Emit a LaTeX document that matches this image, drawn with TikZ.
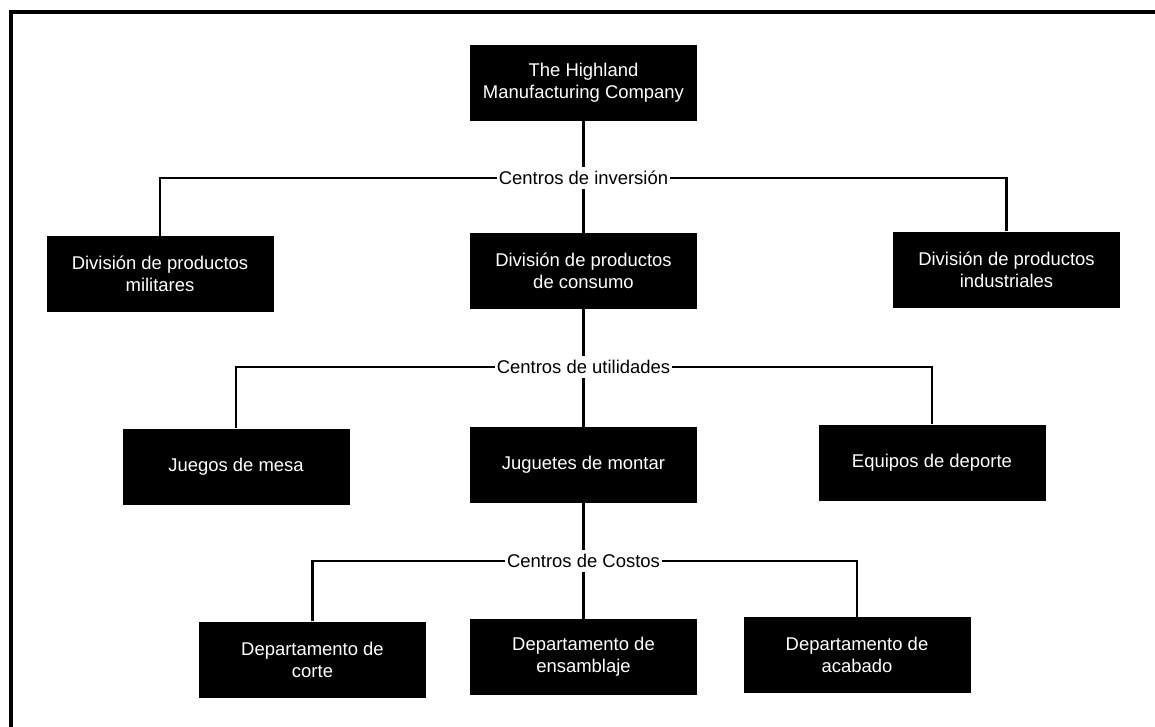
\documentclass[tikz,border=0pt]{standalone}
\usepackage{fontspec}
\setmainfont{Liberation Sans}

\begin{document}
\begin{tikzpicture}[
  unitbox/.style={fill=black, text=white, minimum width=4.54cm, minimum height=1.52cm,
    align=center, inner sep=2pt, font=\fontsize{10.5}{12.5}\selectfont},
  levelname/.style={fill=white, inner xsep=1pt, inner ysep=2.5pt, text height=0.72em,
    text depth=0pt, font=\fontsize{10.5}{12.5}\selectfont},
  link/.style={line width=1.3pt, line join=miter}]
  \useasboundingbox (0,0) rectangle (23.1,-14.52);

  % Frame, cut off at the right and at the bottom.
  \draw[line width=2.8pt, line join=miter] (0.22,-14.7) -- (0.22,-0.24) -- (23.3,-0.24);

  % Company and investment centres.
  \node[unitbox] (company) at (11.67,-1.65) {The Highland\\Manufacturing Company};
  \node[levelname] (invest) at (11.67,-3.56) {Centros de inversión};
  \node[unitbox] (military) at (3.2,-5.48) {División de productos\\militares};
  \node[unitbox] (consumer) at (11.67,-5.42) {División de productos\\de consumo};
  \node[unitbox] (industrial) at (20.13,-5.39) {División de productos\\industriales};

  \draw[link] (company.south) -- (invest.north);
  \draw[link] (invest.south) -- (consumer.north);
  \draw[link] (military.north) |- (invest.west);
  \draw[link] (industrial.north) |- (invest.east);

  % Profit centres.
  \node[levelname] (profit) at (11.67,-7.34) {Centros de utilidades};
  \node[unitbox] (boardgames) at (4.72,-9.33) {Juegos de mesa};
  \node[unitbox] (buildtoys) at (11.67,-9.3) {Juguetes de montar};
  \node[unitbox] (sports) at (18.64,-9.25) {Equipos de deporte};

  \draw[link] (consumer.south) -- (profit.north);
  \draw[link] (profit.south) -- (buildtoys.north);
  \draw[link] (boardgames.north) |- (profit.west);
  \draw[link] (sports.north) |- (profit.east);

  % Cost centres.
  \node[levelname] (cost) at (11.67,-11.22) {Centros de Costos};
  \node[unitbox] (cutting) at (6.25,-13.19) {Departamento de\\corte};
  \node[unitbox] (assembly) at (11.67,-13.14) {Departamento de\\ensamblaje};
  \node[unitbox] (finishing) at (17.14,-13.1) {Departamento de\\acabado};

  \draw[link] (buildtoys.south) -- (cost.north);
  \draw[link] (cost.south) -- (assembly.north);
  \draw[link] (cutting.north) |- (cost.west);
  \draw[link] (finishing.north) |- (cost.east);
\end{tikzpicture}
\end{document}
